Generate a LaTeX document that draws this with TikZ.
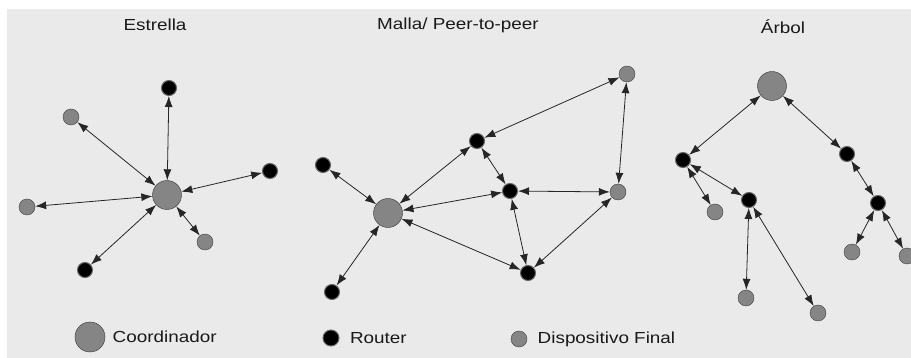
\documentclass[tikz,border=0pt]{standalone}
\usepackage{fontspec}
\setmainfont{Liberation Sans}[FakeStretch=1.18]
\usepackage{tikz}
\usetikzlibrary{positioning}
\usetikzlibrary{arrows.meta}

\definecolor{fondo}{HTML}{EAEAEA}
\definecolor{gris}{HTML}{858585}

\begin{document}
\begin{tikzpicture}[x=1pt,y=-1pt]
	\tikzset{coord/.style={circle,draw=black!80,fill=gris,thin,inner sep=0pt,minimum size=29pt},
		router/.style={circle,draw=black!60,fill=black,line width=1pt,inner sep=0pt,minimum size=15pt},
		final/.style={circle,draw=black!75,fill=gris,thin,inner sep=0pt,minimum size=16pt},
		link/.style={{Latex[length=11pt,width=8pt]}-{Latex[length=11pt,width=8pt]},black!85,line width=0.8pt},
		texto/.style={font=\fontsize{16}{19}\selectfont,text=black!90}}

\useasboundingbox (0,0) rectangle (911,358);
\fill[white] (0,0) rectangle (911,358);
\fill[fondo] (7,9) rectangle (911,358);

% Estrella
\node[texto] (tEst) at (155,25) {Estrella};
\node[coord] (ec) at (167,195) {};
\node[router] (er1) at (169,88) {};
\node[final] (ed1) at (71,117) {};
\node[router] (er2) at (270,171) {};
\node[final] (ed2) at (27,207) {};
\node[final] (ed3) at (205,242) {};
\node[router] (er3) at (85,270) {};

\draw[link] (ec) -- (er1);
\draw[link] (ec) -- (ed1);
\draw[link] (ec) -- (er2);
\draw[link] (ec) -- (ed2);
\draw[link] (ec) -- (ed3);
\draw[link] (ec) -- (er3);

% Malla
\node[texto] (tMal) at (458,25) {Malla/ Peer-to-peer};
\node[coord] (mc) at (388,213) {};
\node[final] (md1) at (627,74) {};
\node[router] (mr1) at (477,141) {};
\node[router] (mr2) at (323,165) {};
\node[router] (mr3) at (510,191) {};
\node[final] (md2) at (618,192) {};
\node[router] (mr4) at (528,273) {};
\node[router] (mr5) at (332,292) {};

\draw[link] (mr2) -- (mc);
\draw[link] (mc) -- (mr5);
\draw[link] (mc) -- (mr1);
\draw[link] (mc) -- (mr3);
\draw[link] (mc) -- (mr4);
\draw[link] (mr1) -- (md1);
\draw[link] (mr1) -- (mr3);
\draw[link] (mr3) -- (md2);
\draw[link] (mr3) -- (mr4);
\draw[link] (md2) -- (md1);
\draw[link] (md2) -- (mr4);

% Arbol
\node[texto] (tArb) at (783,27) {Árbol};
\node[coord] (ac) at (772,86) {};
\node[router] (ar1) at (683,160) {};
\node[router] (ar2) at (847,154) {};
\node[final] (ad1) at (715,212) {};
\node[router] (ar3) at (749,200) {};
\node[router] (ar4) at (878,203) {};
\node[final] (ad2) at (852,252) {};
\node[final] (ad3) at (907,256) {};
\node[final] (ad4) at (746,298) {};
\node[final] (ad5) at (818,313) {};

\draw[link] (ac) -- (ar1);
\draw[link] (ac) -- (ar2);
\draw[link] (ar1) -- (ad1);
\draw[link] (ar1) -- (ar3);
\draw[link] (ar3) -- (ad4);
\draw[link] (ar3) -- (ad5);
\draw[link] (ar2) -- (ar4);
\draw[link] (ar4) -- (ad2);
\draw[link] (ar4) -- (ad3);

% leyenda
\node[coord,minimum size=30pt] (lc) at (90,337) {};
\node[texto] (tc) [right=4pt of lc] {Coordinador};
\node[router,minimum size=16pt] (lr) at (331,338) {};
\node[texto] (tr) [right=7pt of lr] {Router};
\node[final] (ld) at (519,339) {};
\node[texto] (td) [right=7pt of ld] {Dispositivo Final};
\end{tikzpicture}
\end{document}
